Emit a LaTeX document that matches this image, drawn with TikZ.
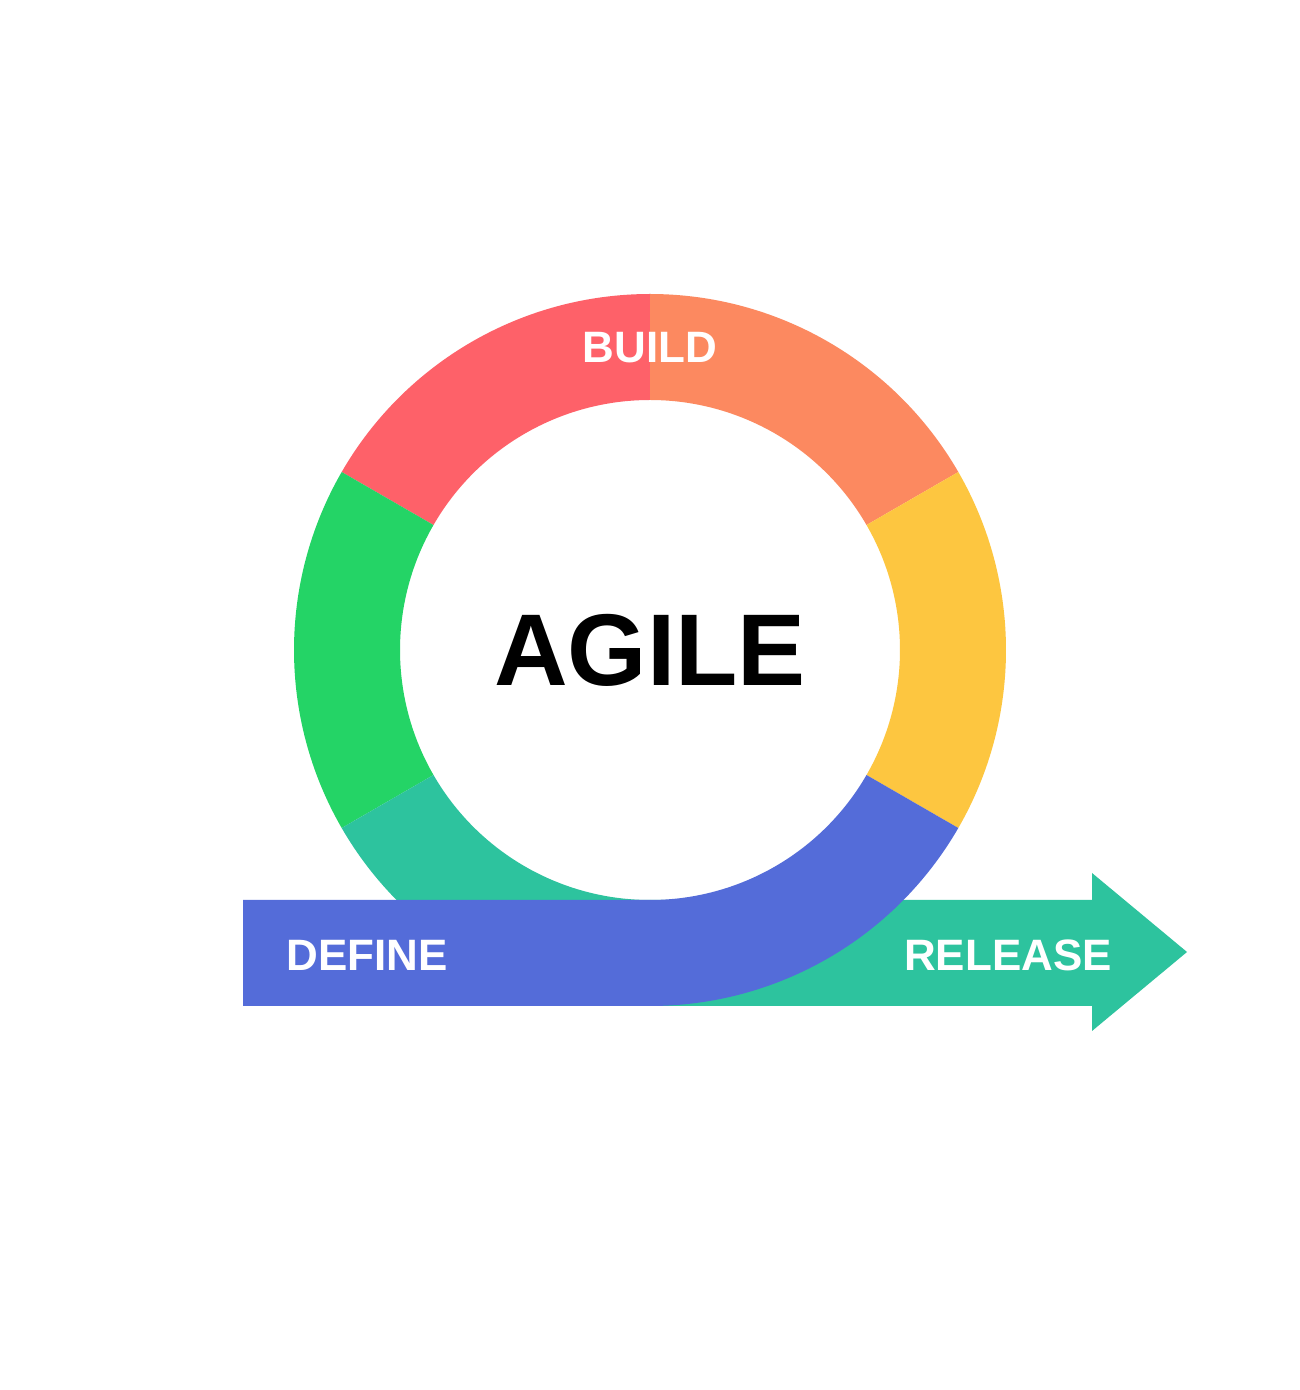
\documentclass[tikz,border=0pt]{standalone}
\usepackage{fontspec}
\setmainfont{Liberation Sans}
\usepackage{tikz}
\definecolor{segred}{HTML}{FE6169}
\definecolor{segorange}{HTML}{FC8960}
\definecolor{segyellow}{HTML}{FDC640}
\definecolor{seggreen}{HTML}{24D466}
\definecolor{segteal}{HTML}{2DC39E}
\definecolor{segblue}{HTML}{546CD9}
\tikzset{
  phase/.style={text=white, inner sep=0pt, font=\fontsize{12.5}{14}\selectfont\bfseries},
  title/.style={text=black, inner sep=0pt, font=\fontsize{29}{32}\selectfont\bfseries}
}

\begin{document}
\begin{tikzpicture}[x=0.01cm, y=0.01cm]
  \fill[white] (0,0) rectangle (1300,1390);
  \useasboundingbox (0,0) rectangle (1300,1390);
  \coordinate (ctr) at (650,740);

  % Ring
  \foreach \a/\col in {90/segred, 30/segorange, -30/segyellow, 150/seggreen, 210/segteal}
    \fill[\col, shift={(ctr)}] (\a:356) arc[start angle=\a, end angle=\a+60, radius=356]
      -- (\a+60:250) arc[start angle=\a+60, end angle=\a, radius=250] -- cycle;

  % Arrow
  \fill[segteal] (650,384) -- (1092,384) -- (1092,359) -- (1187,438)
    -- (1092,517) -- (1092,490) -- (650,490) -- cycle;
  \fill[segblue] (243,384) -- (650,384) arc[start angle=270, end angle=330, radius=356]
    -- ([shift={(330:250)}]ctr) arc[start angle=330, end angle=270, radius=250]
    -- (243,490) -- cycle;

  % Labels
  \node (agile) at (ctr) [title] {AGILE};
  \node (build) at (650,1042) [phase] {BUILD};
  \node (define) at (367,435) [phase] {DEFINE};
  \node (release) at (1008,435) [phase] {RELEASE};
\end{tikzpicture}
\end{document}
